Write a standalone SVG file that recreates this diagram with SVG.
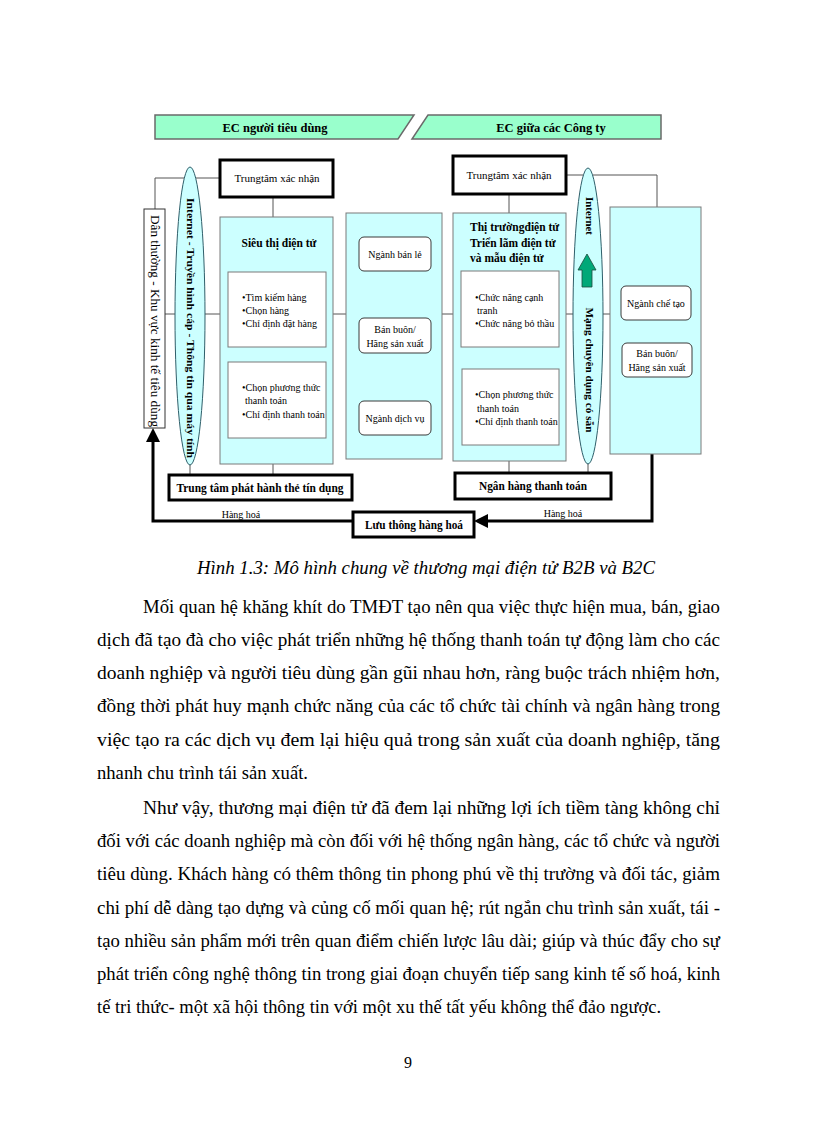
<svg xmlns="http://www.w3.org/2000/svg" width="816" height="1123" viewBox="0 0 816 1123">
<defs>
<style>
.t{font-family:"Liberation Serif","Times New Roman",serif;fill:#000}
.b{font-weight:bold}
.hdr{fill:#99FFCC;stroke:#6a6a6a;stroke-width:1.5}
.cyan{fill:#CCFFFF;stroke:#7a7a7a;stroke-width:1}
.wbox{fill:#fff;stroke:#7a7a7a;stroke-width:1}
.rbox{fill:#fff;stroke:#3a3a3a;stroke-width:1}
.thick{fill:#fff;stroke:#000;stroke-width:3}
.ell{fill:#CCFFFF;stroke:#2f5f6a;stroke-width:1}
.ln{fill:none;stroke:#555;stroke-width:1}
.ar{fill:none;stroke:#000;stroke-width:3}
.body{font-size:19px}
</style>
</defs>
<rect width="816" height="1123" fill="#fff"/>

<g id="connectors">
<path class="ln" d="M220,178 H155 V209"/>
<path class="ln" d="M566,175 H657 V207"/>
<path class="ln" d="M273,197 V217"/>
<path class="ln" d="M273,464 V475"/>
<path class="ln" d="M509,194 V213"/>
<path class="ln" d="M509,461 V473"/>
<path class="ln" d="M190,464 V475"/>
<path class="ln" d="M588,463 V473"/>
<path class="ln" d="M165,314 H175"/>
<path class="ln" d="M205,314 H220"/>
<path class="ln" d="M333,314 H346"/>
<path class="ln" d="M442,314 H453"/>
<path class="ln" d="M566,314 H574"/>
<path class="ln" d="M602,314 H610"/>
<path class="ar" d="M353,521 H153 V440"/>
<polygon points="153,428 146,442 160,442" fill="#000"/>
<path class="ar" d="M652,454 V521 H486"/>
<polygon points="474,521 488,514 488,528" fill="#000"/>
<text class="t" x="241" y="518" font-size="10" text-anchor="middle">Hàng hoá</text>
<text class="t" x="563" y="517" font-size="10" text-anchor="middle">Hàng hoá</text>
</g>

<g id="header-b2c">
<polygon class="hdr" points="155,115 414,115 398,139 155,139"/>
<text class="t b" x="275" y="132" font-size="12.5" text-anchor="middle">EC người tiêu dùng</text>
</g>
<g id="header-b2b">
<polygon class="hdr" points="428,115 661,115 661,139 412,139"/>
<text class="t b" x="551" y="132" font-size="12.5" text-anchor="middle">EC giữa các Công ty</text>
</g>

<g id="trungtam-left">
<rect class="thick" x="220" y="160" width="113" height="37"/>
<text class="t" x="277" y="182" font-size="11" text-anchor="middle">Trungtâm xác nhận</text>
</g>
<g id="trungtam-right">
<rect class="thick" x="453" y="156" width="113" height="38"/>
<text class="t" x="509" y="179" font-size="11" text-anchor="middle">Trungtâm xác nhận</text>
</g>

<g id="dan-thuong">
<rect x="144" y="209" width="21" height="219" fill="#fff" stroke="#333" stroke-width="1"/>
<text class="t" transform="translate(155,321) rotate(90)" x="0" y="4" font-size="11.5" text-anchor="middle" textLength="212" lengthAdjust="spacingAndGlyphs">Dân thường - Khu vực kinh tế tiêu dùng</text>
</g>

<g id="internet-left">
<ellipse class="ell" cx="190" cy="316" rx="15" ry="149"/>
<text class="t b" transform="translate(190,328) rotate(90)" x="0" y="3.5" font-size="10.5" text-anchor="middle" textLength="260" lengthAdjust="spacingAndGlyphs">Internet - Truyền hình cáp - Thông tin qua máy tính</text>
</g>

<g id="sieu-thi">
<rect class="cyan" x="220" y="217" width="113" height="247"/>
<text class="t b" x="279" y="247" font-size="11.5" text-anchor="middle">Siêu thị điện tử</text>
<rect class="wbox" x="228" y="272" width="98" height="75"/>
<text class="t" x="242" y="301" font-size="10">•Tìm kiếm hàng</text>
<text class="t" x="242" y="314" font-size="10">•Chọn hàng</text>
<text class="t" x="242" y="327" font-size="10">•Chỉ định đặt hàng</text>
<rect class="wbox" x="228" y="362" width="98" height="76"/>
<text class="t" x="242" y="391" font-size="10">•Chọn phương thức</text>
<text class="t" x="245" y="404" font-size="10">thanh toán</text>
<text class="t" x="242" y="418" font-size="10">•Chỉ định thanh toán</text>
</g>

<g id="nganh-group">
<rect class="cyan" x="346" y="213" width="96" height="246"/>
<rect class="rbox" x="359" y="237" width="72" height="34" rx="5"/>
<text class="t" x="395" y="258" font-size="10" text-anchor="middle">Ngành bán lẻ</text>
<rect class="rbox" x="359" y="318" width="72" height="35" rx="5"/>
<text class="t" x="395" y="333" font-size="10" text-anchor="middle">Bán buôn/</text>
<text class="t" x="395" y="347" font-size="10" text-anchor="middle">Hãng sản xuất</text>
<rect class="rbox" x="359" y="401" width="72" height="34" rx="5"/>
<text class="t" x="395" y="422" font-size="10" text-anchor="middle">Ngành dịch vụ</text>
</g>

<g id="thi-truong">
<rect class="cyan" x="453" y="213" width="113" height="248"/>
<text class="t b" x="470" y="231" font-size="11.5">Thị trườngđiện tử</text>
<text class="t b" x="470" y="247" font-size="11.5">Triển lãm điện tử</text>
<text class="t b" x="470" y="262" font-size="11.5">và mẫu điện tử</text>
<rect class="wbox" x="461" y="271" width="98" height="76"/>
<text class="t" x="475" y="301" font-size="10">•Chức năng cạnh</text>
<text class="t" x="477" y="314" font-size="10">tranh</text>
<text class="t" x="475" y="327" font-size="10">•Chức năng bỏ thầu</text>
<rect class="wbox" x="462" y="369" width="97" height="76"/>
<text class="t" x="475" y="398" font-size="10">•Chọn phương thức</text>
<text class="t" x="477" y="412" font-size="10">thanh toán</text>
<text class="t" x="475" y="425" font-size="10">•Chỉ định thanh toán</text>
</g>

<g id="internet-right">
<ellipse class="ell" cx="588" cy="316" rx="15" ry="148"/>
<text class="t b" transform="translate(589,216) rotate(90)" x="0" y="3.5" font-size="10.5" text-anchor="middle" textLength="38" lengthAdjust="spacingAndGlyphs">Internet</text>
<polygon points="587,254 578,270 582,270 582,287 592,287 592,270 596,270" fill="#00A878" stroke="#1c4a3c" stroke-width="0.8"/>
<text class="t b" transform="translate(589,370) rotate(90)" x="0" y="3.5" font-size="11" text-anchor="middle" textLength="125" lengthAdjust="spacingAndGlyphs">Mạng chuyên dụng có sẵn</text>
</g>

<g id="che-tao">
<rect class="cyan" x="610" y="207" width="91" height="247"/>
<rect class="rbox" x="621" y="286" width="70" height="34" rx="5"/>
<text class="t" x="656" y="307" font-size="10" text-anchor="middle">Ngành chế tạo</text>
<rect class="rbox" x="622" y="343" width="70" height="34" rx="5"/>
<text class="t" x="657" y="357" font-size="10" text-anchor="middle">Bán buôn/</text>
<text class="t" x="657" y="371" font-size="10" text-anchor="middle">Hãng sản xuất</text>
</g>

<g id="the-tin-dung">
<rect class="thick" x="169" y="475" width="183" height="25"/>
<text class="t b" x="260" y="492" font-size="12" text-anchor="middle" textLength="167" lengthAdjust="spacingAndGlyphs">Trung tâm phát hành thẻ tín dụng</text>
</g>
<g id="ngan-hang">
<rect class="thick" x="455" y="473" width="156" height="26"/>
<text class="t b" x="533" y="490" font-size="12" text-anchor="middle" textLength="108" lengthAdjust="spacingAndGlyphs">Ngân hàng thanh toán</text>
</g>
<g id="luu-thong">
<rect class="thick" x="353" y="512" width="121" height="25"/>
<text class="t b" x="414" y="529" font-size="12" text-anchor="middle" textLength="98" lengthAdjust="spacingAndGlyphs">Lưu thông hàng hoá</text>
</g>

<g id="text">
<text class="t" x="426" y="574" font-size="19" font-style="italic" text-anchor="middle" textLength="458" lengthAdjust="spacingAndGlyphs">Hình 1.3: Mô hình chung về thương mại điện tử B2B và B2C</text>
<text class="t body" x="143" y="613" textLength="577" lengthAdjust="spacingAndGlyphs">Mối quan hệ khăng khít do TMĐT tạo nên qua việc thực hiện mua, bán, giao</text>
<text class="t body" x="97" y="646" textLength="623" lengthAdjust="spacingAndGlyphs">dịch đã tạo đà cho việc phát triển những hệ thống thanh toán tự động làm cho các</text>
<text class="t body" x="97" y="679" textLength="623" lengthAdjust="spacingAndGlyphs">doanh nghiệp và người tiêu dùng gần gũi nhau hơn, ràng buộc trách nhiệm hơn,</text>
<text class="t body" x="97" y="712" textLength="623" lengthAdjust="spacingAndGlyphs">đồng thời phát huy mạnh chức năng của các tổ chức tài chính và ngân hàng trong</text>
<text class="t body" x="97" y="746" textLength="623" lengthAdjust="spacingAndGlyphs">việc tạo ra các dịch vụ đem lại hiệu quả trong sản xuất của doanh nghiệp, tăng</text>
<text class="t body" x="97" y="779" textLength="211" lengthAdjust="spacingAndGlyphs">nhanh chu trình tái sản xuất.</text>
<text class="t body" x="143" y="814" textLength="577" lengthAdjust="spacingAndGlyphs">Như vậy, thương mại điện tử đã đem lại những lợi ích tiềm tàng không chỉ</text>
<text class="t body" x="97" y="847" textLength="623" lengthAdjust="spacingAndGlyphs">đối với các doanh nghiệp mà còn đối với hệ thống ngân hàng, các tổ chức và người</text>
<text class="t body" x="97" y="880" textLength="623" lengthAdjust="spacingAndGlyphs">tiêu dùng. Khách hàng có thêm thông tin phong phú về thị trường và đối tác, giảm</text>
<text class="t body" x="97" y="914" textLength="623" lengthAdjust="spacingAndGlyphs">chi phí dễ dàng tạo dựng và củng cố mối quan hệ; rút ngắn chu trình sản xuất, tái -</text>
<text class="t body" x="97" y="947" textLength="623" lengthAdjust="spacingAndGlyphs">tạo nhiều sản phẩm mới trên quan điểm chiến lược lâu dài; giúp và thúc đẩy cho sự</text>
<text class="t body" x="97" y="980" textLength="623" lengthAdjust="spacingAndGlyphs">phát triển công nghệ thông tin trong giai đoạn chuyển tiếp sang kinh tế số hoá, kinh</text>
<text class="t body" x="97" y="1013" textLength="564" lengthAdjust="spacingAndGlyphs">tế tri thức- một xã hội thông tin với một xu thế tất yếu không thể đảo ngược.</text>
<text class="t" x="408" y="1068" font-size="16" text-anchor="middle">9</text>
</g>
</svg>
